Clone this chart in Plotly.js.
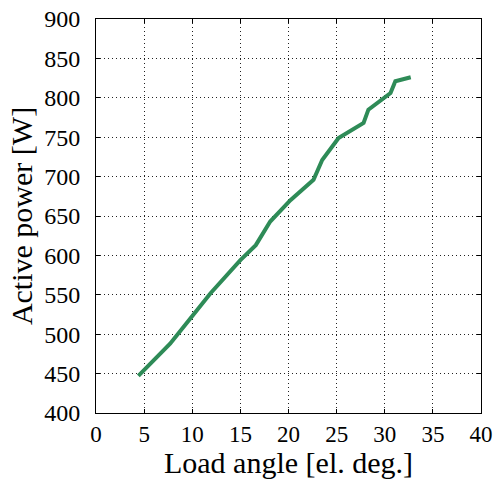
<!DOCTYPE html>
<html>
<head>
<meta charset="utf-8">
<script src="https://cdn.plot.ly/plotly-3.0.1.min.js"></script>
<style>
  html, body { margin: 0; padding: 0; background: #fff; }
  #chart { width: 496px; height: 479px; }
</style>
</head>
<body>
<div id="chart"></div>
<script>
// Load angle (electrical degrees) and measured active power (W)
const loadAngle = [4.4, 5.7, 7.7, 9.8, 11.9, 15.0, 16.6, 18.1, 20.2, 22.6, 23.5, 25.2, 27.8, 28.3, 30.6, 31.1, 32.7];
const activePower = [447, 463, 488, 520, 552, 594, 613, 643, 670, 696, 721, 749, 768, 785, 806, 821, 826];

const xTicks = [0, 5, 10, 15, 20, 25, 30, 35, 40];
const yTicks = [400, 450, 500, 550, 600, 650, 700, 750, 800, 850, 900];

const serif = '"Liberation Serif", "Times New Roman", Times, serif';

const axisCommon = {
  showline: true,
  linecolor: '#000',
  linewidth: 1,
  mirror: 'ticks',
  ticks: 'inside',
  ticklen: 4,
  tickcolor: '#000',
  showgrid: true,
  gridcolor: '#222',
  griddash: '1px,3px',
  gridwidth: 1,
  zeroline: false,
  tickfont: { family: serif, size: 24, color: '#000' }
};

Plotly.newPlot('chart', [{
  x: loadAngle,
  y: activePower,
  type: 'scatter',
  mode: 'lines',
  line: { color: '#2e8b57', width: 4 },
  showlegend: false
}], {
  width: 496,
  height: 479,
  margin: { l: 96, r: 15, t: 19, b: 66 },
  paper_bgcolor: '#fff',
  plot_bgcolor: '#fff',
  font: { family: serif, color: '#000' },
  xaxis: Object.assign({}, axisCommon, {
    range: [0, 40],
    tickvals: xTicks,
    ticktext: xTicks.map(String),
    tickfont: { family: serif, size: 23, color: '#000' },
    ticklabelstandoff: 0,
    title: { text: 'Load angle [el. deg.]', font: { family: serif, size: 30, color: '#000' }, standoff: 8 }
  }),
  yaxis: Object.assign({}, axisCommon, {
    range: [400, 900],
    tickvals: yTicks,
    ticktext: yTicks.map(String),
    ticklabelstandoff: 10,
    title: { text: 'Active power [W]', font: { family: serif, size: 30, color: '#000' }, standoff: 2 }
  })
}, { staticPlot: true, displayModeBar: false });
</script>
</body>
</html>
